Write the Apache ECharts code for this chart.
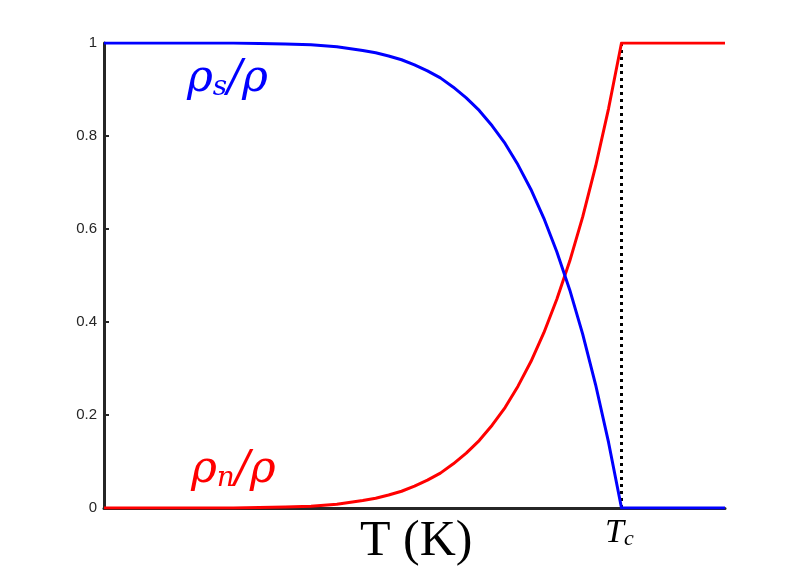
<!DOCTYPE html>
<html>
<head>
<meta charset="utf-8">
<script src="https://cdn.jsdelivr.net/npm/echarts@6/dist/echarts.min.js"></script>
<style>html,body{margin:0;padding:0;background:#fff}#c{width:800px;height:572px}</style>
</head>
<body>
<div id="c"></div>
<script>
// Temperature in units of Tc (axis runs 0 .. 1.2)
var temps = [0, 0.05, 0.1, 0.15, 0.2, 0.25, 0.3, 0.35, 0.4, 0.45, 0.5, 0.525, 0.55, 0.575, 0.6, 0.625, 0.65, 0.675, 0.7, 0.725, 0.75, 0.775, 0.8, 0.825, 0.85, 0.875, 0.9, 0.925, 0.95, 0.975, 1.0, 1.2];
// superfluid fraction rho_s/rho (blue)
var rhoS = [1, 1, 1, 1, 1, 1, 0.999, 0.998, 0.996, 0.992, 0.984, 0.979, 0.972, 0.964, 0.953, 0.94, 0.925, 0.905, 0.882, 0.855, 0.822, 0.784, 0.738, 0.685, 0.623, 0.551, 0.469, 0.374, 0.265, 0.141, 0, 0];
// normal fraction rho_n/rho (red)
var rhoN = [0, 0, 0, 0, 0, 0, 0.001, 0.002, 0.004, 0.008, 0.016, 0.021, 0.028, 0.036, 0.047, 0.06, 0.075, 0.095, 0.118, 0.145, 0.178, 0.216, 0.262, 0.315, 0.377, 0.449, 0.531, 0.626, 0.735, 0.859, 1, 1];
var Tc = 1.0;
var tcLine = [[Tc, 0], [Tc, 1]];

function pairs(xs, ys) { return xs.map(function (x, i) { return [x, ys[i]]; }); }

var chart = echarts.init(document.getElementById('c'), null, { renderer: 'canvas' });
chart.setOption({
  animation: false,
  backgroundColor: '#ffffff',
  grid: { left: 104, right: 75, top: 43, bottom: 64 },
  xAxis: {
    type: 'value', min: 0, max: 1.2,
    axisLine: { show: true, onZero: false, lineStyle: { color: '#262626', width: 3 } },
    axisTick: { show: false }, axisLabel: { show: false }, splitLine: { show: false }
  },
  yAxis: {
    type: 'value', min: 0, max: 1, interval: 0.2,
    axisLine: { show: true, lineStyle: { color: '#262626', width: 3 } },
    axisTick: { show: true, inside: true, length: 5, lineStyle: { color: '#262626', width: 2 } },
    axisLabel: {
      color: '#262626', fontSize: 15, fontFamily: 'Liberation Sans, Arial, sans-serif', margin: 7,
      formatter: function (v) { return String(Math.round(v * 10) / 10); }
    },
    splitLine: { show: false }
  },
  series: [
    {
      type: 'line', data: tcLine, symbol: 'none', z: 1,
      lineStyle: { color: '#000', width: 3, type: [3, 4] }
    },
    {
      type: 'line', data: pairs(temps, rhoN), symbol: 'none', z: 3,
      lineStyle: { color: '#ff0000', width: 3, join: 'round' }
    },
    {
      type: 'line', data: pairs(temps, rhoS), symbol: 'none', z: 4,
      lineStyle: { color: '#0000ff', width: 3, join: 'round' }
    }
  ],
  graphic: [
    {
      type: 'text', left: 187, top: 58, z: 10,
      style: {
        text: '{a|ρ}{b|s}{a|/ρ}',
        rich: {
          a: { fontFamily: 'DejaVu Serif, serif', fontStyle: 'italic', fontSize: 44, fill: '#0000ff', verticalAlign: 'bottom', lineHeight: 52 },
          b: { fontFamily: 'DejaVu Serif, serif', fontStyle: 'italic', fontSize: 28, fill: '#0000ff', verticalAlign: 'bottom', lineHeight: 40 }
        }
      }
    },
    {
      type: 'text', left: 191, top: 449, z: 10,
      style: {
        text: '{a|ρ}{b|n}{a|/ρ}',
        rich: {
          a: { fontFamily: 'DejaVu Serif, serif', fontStyle: 'italic', fontSize: 44, fill: '#ff0000', verticalAlign: 'bottom', lineHeight: 52 },
          b: { fontFamily: 'DejaVu Serif, serif', fontStyle: 'italic', fontSize: 28, fill: '#ff0000', verticalAlign: 'bottom', lineHeight: 40 }
        }
      }
    },
    {
      type: 'text', left: 360, top: 517, z: 10,
      style: { text: 'T (K)', font: '50px "Liberation Serif", serif', fill: '#000' }
    },
    {
      type: 'text', left: 605, top: 516, z: 10,
      style: {
        text: '{a|T}{b|c}',
        rich: {
          a: { fontFamily: 'Liberation Serif, serif', fontStyle: 'italic', fontSize: 34, fill: '#000', verticalAlign: 'bottom', lineHeight: 38 },
          b: { fontFamily: 'Liberation Serif, serif', fontStyle: 'italic', fontSize: 22, fill: '#000', verticalAlign: 'bottom', lineHeight: 30 }
        }
      }
    }
  ]
});
</script>
</body>
</html>
